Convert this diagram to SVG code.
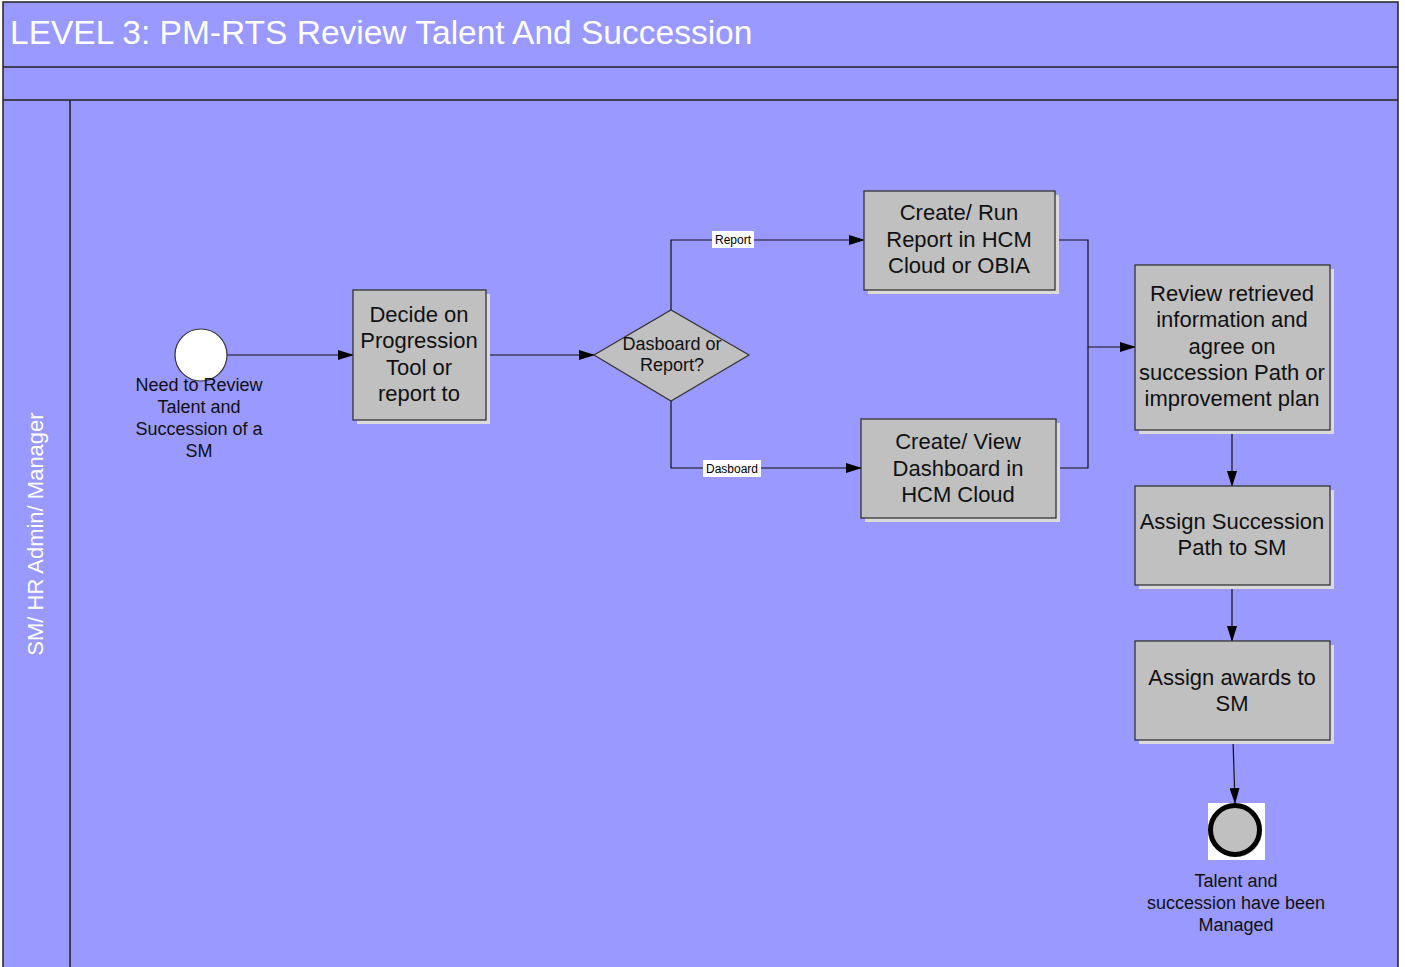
<svg xmlns="http://www.w3.org/2000/svg" width="1405" height="967" viewBox="0 0 1405 967">
  <style>
    .pool { fill: #9999ff; stroke: #222; stroke-width: 1.5; }
    .task { fill: #c0c0c0; stroke: #333; stroke-width: 1.3; }
    .shadow { fill: #dadada; }
    .tt { font-family: "Liberation Sans", Arial, sans-serif; font-size: 22px; fill: #111; text-anchor: middle; }
    .st { font-family: "Liberation Sans", Arial, sans-serif; font-size: 18px; fill: #111; text-anchor: middle; }
    .lbl { font-family: "Liberation Sans", Arial, sans-serif; font-size: 12px; fill: #000; text-anchor: middle; }
    .edge { fill: none; stroke: #111; stroke-width: 1.2; }
  </style>
  <defs>
    <marker id="arr" markerWidth="16" markerHeight="10" refX="15" refY="5" orient="auto" markerUnits="userSpaceOnUse">
      <path d="M0,0 L16,5 L0,10 Z" fill="#000"/>
    </marker>
  </defs>

  <!-- pool and lane -->
  <g id="pool">
    <rect class="pool" x="3" y="2" width="1395" height="975"/>
    <line x1="3" y1="67" x2="1398" y2="67" stroke="#222" stroke-width="1.5"/>
    <line x1="3" y1="100" x2="1398" y2="100" stroke="#222" stroke-width="1.5"/>
    <line x1="70" y1="100" x2="70" y2="967" stroke="#222" stroke-width="1.5"/>
    <text x="10" y="44" font-family="Liberation Sans, Arial, sans-serif" font-size="33.5" fill="#fff">LEVEL 3: PM-RTS Review Talent And Succession</text>
    <text transform="translate(43,534) rotate(-90)" font-family="Liberation Sans, Arial, sans-serif" font-size="22" fill="#fff" text-anchor="middle">SM/ HR Admin/ Manager</text>
  </g>

  <!-- connectors -->
  <g id="connectors">
    <line class="edge" x1="227" y1="355" x2="353" y2="355" marker-end="url(#arr)"/>
    <line class="edge" x1="486" y1="355" x2="594" y2="355" marker-end="url(#arr)"/>
    <polyline class="edge" points="671,310 671,240 864,240" marker-end="url(#arr)"/>
    <polyline class="edge" points="671,401 671,468 861,468" marker-end="url(#arr)"/>
    <polyline class="edge" points="1055,240 1088,240 1088,347 1135,347" marker-end="url(#arr)"/>
    <polyline class="edge" points="1056,468 1088,468 1088,347"/>
    <line class="edge" x1="1232" y1="430" x2="1232" y2="486" marker-end="url(#arr)"/>
    <line class="edge" x1="1232" y1="585" x2="1232" y2="641" marker-end="url(#arr)"/>
    <line class="edge" x1="1233" y1="740" x2="1235" y2="803" marker-end="url(#arr)"/>
    <rect x="712" y="231" width="42" height="17" fill="#fff"/>
    <text class="lbl" x="733" y="244">Report</text>
    <rect x="703" y="460" width="58" height="17" fill="#fff"/>
    <text class="lbl" x="732" y="473">Dasboard</text>
  </g>

  <g id="start">
    <circle cx="201" cy="355" r="26" fill="#fff" stroke="#333" stroke-width="1.2"/>
    <text class="st" x="199" y="391">Need to Review</text>
    <text class="st" x="199" y="413">Talent and</text>
    <text class="st" x="199" y="435">Succession of a</text>
    <text class="st" x="199" y="457">SM</text>
  </g>

  <g id="decide">
    <rect class="shadow" x="357" y="294" width="133" height="130"/>
    <rect class="task" x="353" y="290" width="133" height="130"/>
    <text class="tt" x="419" y="322">Decide on</text>
    <text class="tt" x="419" y="348">Progression</text>
    <text class="tt" x="419" y="375">Tool or</text>
    <text class="tt" x="419" y="401">report to</text>
  </g>

  <g id="gateway">
    <polygon points="594,355 671,310 749,355 671,401" fill="#c0c0c0" stroke="#333" stroke-width="1.2"/>
    <text class="st" x="672" y="350">Dasboard or</text>
    <text class="st" x="672" y="371">Report?</text>
  </g>

  <g id="run-report">
    <rect class="shadow" x="868" y="195" width="191" height="99"/>
    <rect class="task" x="864" y="191" width="191" height="99"/>
    <text class="tt" x="959" y="220">Create/ Run</text>
    <text class="tt" x="959" y="247">Report in HCM</text>
    <text class="tt" x="959" y="273">Cloud or OBIA</text>
  </g>

  <g id="view-dashboard">
    <rect class="shadow" x="865" y="423" width="195" height="99"/>
    <rect class="task" x="861" y="419" width="195" height="99"/>
    <text class="tt" x="958" y="449">Create/ View</text>
    <text class="tt" x="958" y="476">Dashboard in</text>
    <text class="tt" x="958" y="502">HCM Cloud</text>
  </g>

  <g id="review">
    <rect class="shadow" x="1139" y="269" width="195" height="165"/>
    <rect class="task" x="1135" y="265" width="195" height="165"/>
    <text class="tt" x="1232" y="301">Review retrieved</text>
    <text class="tt" x="1232" y="327">information and</text>
    <text class="tt" x="1232" y="354">agree on</text>
    <text class="tt" x="1232" y="380">succession Path or</text>
    <text class="tt" x="1232" y="406">improvement plan</text>
  </g>

  <g id="assign-path">
    <rect class="shadow" x="1139" y="490" width="195" height="99"/>
    <rect class="task" x="1135" y="486" width="195" height="99"/>
    <text class="tt" x="1232" y="529">Assign Succession</text>
    <text class="tt" x="1232" y="555">Path to SM</text>
  </g>

  <g id="assign-awards">
    <rect class="shadow" x="1139" y="645" width="195" height="99"/>
    <rect class="task" x="1135" y="641" width="195" height="99"/>
    <text class="tt" x="1232" y="685">Assign awards to</text>
    <text class="tt" x="1232" y="711">SM</text>
  </g>

  <g id="end">
    <rect x="1208" y="803" width="57" height="57" fill="#fff"/>
    <circle cx="1237" cy="832" r="25" fill="#dadada"/>
    <circle cx="1235" cy="830" r="24.5" fill="#c0c0c0" stroke="#000" stroke-width="5"/>
    <text class="st" x="1236" y="887">Talent and</text>
    <text class="st" x="1236" y="909">succession have been</text>
    <text class="st" x="1236" y="931">Managed</text>
  </g>
</svg>
